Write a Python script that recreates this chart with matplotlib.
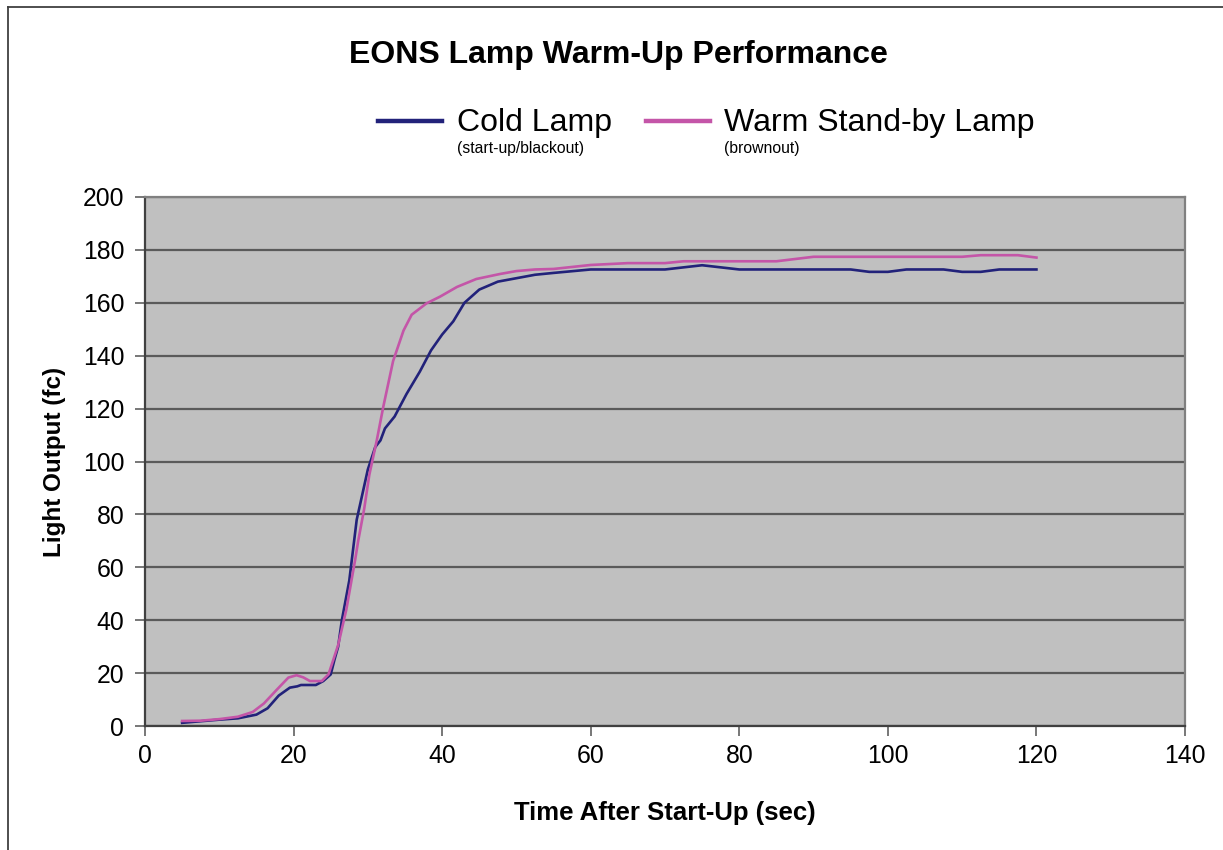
import matplotlib
matplotlib.use("Agg")
import matplotlib.pyplot as plt
from matplotlib.lines import Line2D

plt.rcParams['font.family'] = ['Liberation Sans', 'DejaVu Sans']

# Data
cold_t = [5, 7.5, 10, 12.5, 15, 16.5, 18, 19.5, 20.5, 21, 23, 24, 25, 25.5, 26, 26.5,
          27.5, 28.5, 30, 31, 31.7, 32.3, 33.6, 35.2, 37, 38.5, 40, 41.5, 43, 45, 47.5,
          50, 52.5, 55, 60, 65, 70, 75, 80, 85, 90, 95, 97.5, 100, 102.5, 107.5, 110,
          112.5, 115, 120]
cold_fc = [1.2, 1.8, 2.4, 2.9, 4.3, 6.7, 11.5, 14.5, 15, 15.5, 15.5, 17, 19.5, 25, 30, 40,
           55, 78, 97, 105.5, 108, 112.5, 117, 125.5, 134, 142, 148, 153, 160, 165, 168,
           169.3, 170.6, 171.3, 172.6, 172.6, 172.6, 174.2, 172.6, 172.6, 172.6, 172.6, 171.7,
           171.7, 172.6, 172.6, 171.7, 171.7, 172.6, 172.6]

warm_t = [5, 7.5, 10, 12.5, 14.5, 16, 17.7, 19.3, 20.4, 21.3, 22.2, 23.8, 24.7, 26, 27.1,
          28.3, 28.7, 29.5, 30.2, 31.2, 32.1, 33.4, 34.8, 35.9, 37.9, 39.7, 42, 44.6, 47.8,
          50, 52.5, 55, 60, 65, 70, 72.5, 85, 90, 110, 112.5, 117.5, 120]
warm_fc = [1.9, 2.0, 2.6, 3.5, 5.3, 8.5, 13.6, 18.3, 19.2, 18.4, 17.0, 17.0, 19.5, 30.6, 44,
           63, 70, 82, 95, 108, 121, 138, 149.5, 155.5, 159.8, 162.3, 166, 169, 170.9,
           172, 172.6, 172.8, 174.3, 175, 175, 175.7, 175.7, 177.4, 177.4, 178, 178, 177.1]

x_ticks = [0, 20, 40, 60, 80, 100, 120, 140]
y_ticks = [0, 20, 40, 60, 80, 100, 120, 140, 160, 180, 200]

title = "EONS Lamp Warm-Up Performance"
x_label = "Time After Start-Up (sec)"
y_label = "Light Output (fc)"
series_names = ["Cold Lamp", "Warm Stand-by Lamp"]
series_notes = ["(start-up/blackout)", "(brownout)"]
cold_color = "#22227A"
warm_color = "#C455A8"

W, H = 1223, 850
fig = plt.figure(figsize=(W / 100, H / 100), dpi=100)
fig.patch.set_facecolor("white")

ax = fig.add_axes([145 / W, 1 - 726 / H, (1185 - 145) / W, (726 - 197) / H])
ax.set_facecolor("#C0C0C0")
ax.set_xlim(0, 140)
ax.set_ylim(0, 200)
ax.set_xticks(x_ticks)
ax.set_yticks(y_ticks)
ax.tick_params(labelsize=17.8, length=7, width=1.2, color="#606060")
ax.tick_params(axis="y", pad=8)
ax.tick_params(axis="x", pad=6)
ax.yaxis.grid(True, color="#5A5A5A", linewidth=1.6)
ax.set_axisbelow(True)
for s in ["left", "bottom"]:
    ax.spines[s].set_color("#404040")
    ax.spines[s].set_linewidth(1.6)
for s in ["right", "top"]:
    ax.spines[s].set_color("#808080")
    ax.spines[s].set_linewidth(1.6)

ax.plot(cold_t, cold_fc, color=cold_color, lw=1.9, solid_joinstyle="round")
ax.plot(warm_t, warm_fc, color=warm_color, lw=1.9, solid_joinstyle="round")

ax.set_xlabel(x_label, fontsize=18.5, fontweight="bold", labelpad=24)
ax.set_ylabel(y_label, fontsize=17.5, fontweight="bold", labelpad=12)

fig.text(618 / W, 1 - 55 / H, title, fontsize=23, fontweight="bold",
         ha="center", va="center")

# Legend (manual)
handles = [(378, 442, 457, cold_color), (646, 710, 724, warm_color)]
for (x0, x1, tx, col), name, note in zip(handles, series_names, series_notes):
    fig.add_artist(Line2D([x0 / W, x1 / W], [1 - 121 / H, 1 - 121 / H],
                          color=col, lw=3.2, transform=fig.transFigure))
    fig.text(tx / W, 1 - 123 / H, name, fontsize=23, ha="left", va="center")
    fig.text(tx / W, 1 - 148 / H, note, fontsize=11.3, ha="left", va="center")

# Chart area border (left and top)
fig.add_artist(Line2D([8 / W, 8 / W], [0, 1 - 7 / H], color="#404040", lw=1.3,
                      transform=fig.transFigure))
fig.add_artist(Line2D([8 / W, 1], [1 - 7 / H, 1 - 7 / H], color="#404040", lw=1.3,
                      transform=fig.transFigure))

fig.savefig("out.png", dpi=100)
